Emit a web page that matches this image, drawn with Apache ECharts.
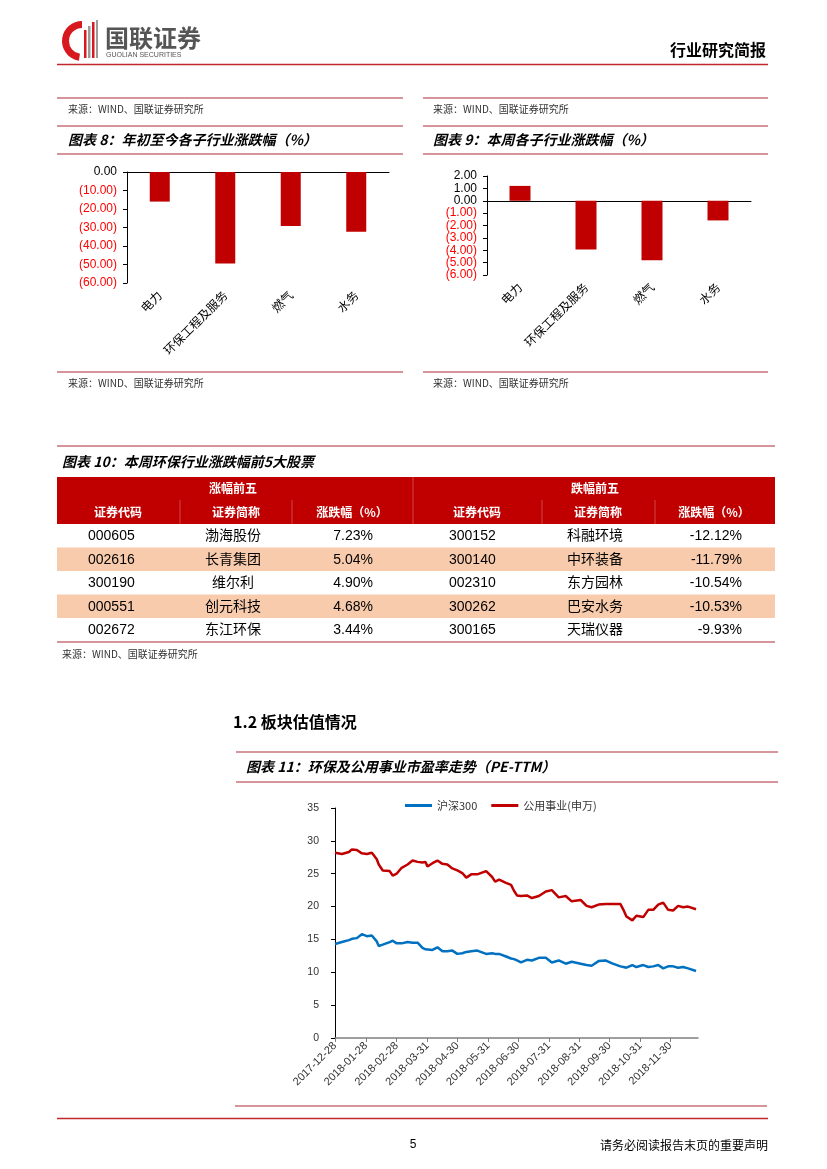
<!DOCTYPE html>
<html><head><meta charset="utf-8">
<script src="https://cdn.jsdelivr.net/npm/echarts@6/dist/echarts.min.js"></script>
<style>html,body{margin:0;padding:0;background:#fff}#c{width:827px;height:1169px}</style>
</head><body><div id="c"></div>
<script>
// ---------- DATA ----------
const subIndustries = ['电力', '环保工程及服务', '燃气', '水务'];
const ytdChange = [-16.0, -49.5, -29.2, -32.3];
const weekChange = [1.2, -3.93, -4.81, -1.59];

const upCodes = ['000605', '002616', '300190', '000551', '002672'];
const upNames = ['渤海股份', '长青集团', '维尔利', '创元科技', '东江环保'];
const upPct = [7.23, 5.04, 4.90, 4.68, 3.44];
const downCodes = ['300152', '300140', '002310', '300262', '300165'];
const downNames = ['科融环境', '中环装备', '东方园林', '巴安水务', '天瑞仪器'];
const downPct = [-12.12, -11.79, -10.54, -10.53, -9.93];

const peStart = '2017-12-28';
const peEnd = '2018-12-28';
const peTickDates = ['2017-12-28','2018-01-28','2018-02-28','2018-03-31','2018-04-30','2018-05-31',
  '2018-06-30','2018-07-31','2018-08-31','2018-09-30','2018-10-31','2018-11-30'];
const peDates = ['2017-12-28','2018-01-04','2018-01-11','2018-01-14','2018-01-19','2018-01-24','2018-01-29',
  '2018-02-03','2018-02-05','2018-02-08','2018-02-10','2018-02-14','2018-02-21','2018-02-24','2018-02-28',
  '2018-03-05','2018-03-11','2018-03-16','2018-03-21','2018-03-26','2018-03-29','2018-03-31',
  '2018-04-05','2018-04-10','2018-04-15','2018-04-20','2018-04-25','2018-04-30',
  '2018-05-05','2018-05-09','2018-05-14','2018-05-20','2018-05-29',
  '2018-06-04','2018-06-07','2018-06-11','2018-06-18','2018-06-23','2018-06-26','2018-06-29',
  '2018-07-03','2018-07-09','2018-07-14','2018-07-21','2018-07-28',
  '2018-08-03','2018-08-10','2018-08-17','2018-08-23',
  '2018-09-01','2018-09-07','2018-09-12','2018-09-19','2018-09-26',
  '2018-10-02','2018-10-11','2018-10-14','2018-10-17','2018-10-23','2018-10-27',
  '2018-11-03','2018-11-08','2018-11-13','2018-11-18','2018-11-23','2018-11-28',
  '2018-12-03','2018-12-08','2018-12-13','2018-12-18','2018-12-26'];
const hs300 = [14.3,14.6,14.9,15.1,15.2,15.8,15.5,
  15.6,15.7,14.7,14.0,14.2,14.6,14.8,14.4,
  14.4,14.6,14.5,14.5,13.7,13.5,13.4,
  13.4,13.8,13.2,13.2,13.3,12.8,
  12.9,13.1,13.2,13.3,12.8,
  12.9,12.8,12.8,12.4,12.1,12.0,11.8,
  11.5,11.9,11.8,12.2,12.2,
  11.5,11.8,11.3,11.6,
  11.3,11.1,11.0,11.7,11.8,
  11.4,10.9,10.8,10.7,11.1,10.8,
  11.1,10.8,10.9,11.1,10.6,10.9,
  10.9,10.7,10.8,10.6,10.2];
const utilities = [28.2,28.0,28.3,28.7,28.6,28.1,28.0,
  28.2,27.8,27.2,26.4,25.5,25.4,24.7,25.0,
  25.9,26.4,27.0,26.8,26.7,26.8,26.1,
  26.6,27.0,26.5,26.4,25.8,25.5,
  25.1,24.4,24.9,24.9,25.4,
  24.5,23.8,24.1,23.6,23.3,22.4,21.7,
  21.6,21.7,21.3,21.6,22.3,
  22.5,21.4,21.6,20.8,
  21.0,20.1,19.9,20.3,20.4,
  20.4,20.4,19.5,18.5,17.9,18.6,
  18.4,19.5,19.5,20.3,20.6,19.5,
  19.4,20.1,19.9,20.0,19.6];

// ---------- HELPERS ----------
const CJK = '"Noto Sans CJK SC", sans-serif';
const LAT = '"Liberation Sans", "Noto Sans CJK SC", sans-serif';
const PINK = '#C8707A';
function ts(s){const p=s.split('-').map(Number);return Date.UTC(p[0],p[1]-1,p[2]);}
const DAY = 86400000;
function dayOf(s){return Math.round((ts(s)-ts(peStart))/DAY);}
function pad(n){return n<10?'0'+n:''+n;}
function dayLabel(v){const d=new Date(ts(peStart)+Math.round(v)*DAY);return d.getUTCFullYear()+'-'+pad(d.getUTCMonth()+1)+'-'+pad(d.getUTCDate());}
function T(x,y,text,font,fill,align,valign){
  return {type:'text',x:x,y:y,silent:true,style:{text:text,font:font,fill:fill||'#000',
    align:align||'left',verticalAlign:valign||'middle',textAlign:align||'left',textVerticalAlign:valign||'middle'}};
}
function L(x1,y1,x2,y2,color,w){
  return {type:'line',silent:true,shape:{x1:x1,y1:y1,x2:x2,y2:y2},style:{stroke:color,lineWidth:w||1}};
}
function R(x,y,w,h,fill){return {type:'rect',silent:true,shape:{x:x,y:y,width:w,height:h},style:{fill:fill}};}
function numFmt(v){ if(v===0) return '0.00'; return v<0?'('+Math.abs(v).toFixed(2)+')':v.toFixed(2); }
function numColor(v){ return Number(v)<0?'#FF0000':'#000'; }

const g = [];
// header
g.push({type:'sector',silent:true,shape:{cx:82,cy:41,r:20,r0:13,startAngle:Math.PI*0.55,endAngle:Math.PI*1.5},style:{fill:'#D7191F'}});
g.push(R(84,30,2.5,28,'#D7191F'), R(88,26,2.5,32,'#9a9a9a'), R(92,22,2.5,36,'#D7191F'), R(96,20,2,38,'#9a9a9a'));
g.push(T(105,38,'国联证券','bold 24px '+CJK,'#555'));
g.push(T(106,55,'GUOLIAN SECURITIES','7px '+LAT,'#555'));
g.push(T(766,50,'行业研究简报','bold 16px '+CJK,'#000','right'));
g.push(L(57,64.5,768,64.5,'#C0282D',1.5));

// chart 8 / 9 frames
const src = '来源：WIND、国联证券研究所';
[[57,403,68,'图表 8：年初至今各子行业涨跌幅（%）'],[423,768,433,'图表 9：本周各子行业涨跌幅（%）']].forEach(function(c){
  g.push(L(c[0],98,c[1],98,PINK,1.5));
  g.push(T(c[2],109,src,'10px '+CJK,'#333'));
  g.push(L(c[0],126,c[1],126,PINK,1.5));
  g.push(T(c[2],140,c[3],'italic bold 14px '+CJK,'#000'));
  g.push(L(c[0],154,c[1],154,PINK,1.5));
  g.push(L(c[0],372,c[1],372,PINK,1.5));
  g.push(T(c[2],383,src,'10px '+CJK,'#333'));
});

// table 10
g.push(L(57,446,775,446,PINK,1.5));
g.push(T(62,462,'图表 10：本周环保行业涨跌幅前5大股票','italic bold 14px '+CJK,'#000'));
g.push(R(57,477,718,47,'#C00000'));
const rowTop = 524, rowH = 23.5;
for(let i=0;i<upCodes.length;i++){ if(i%2===1) g.push(R(57,rowTop+i*rowH,718,rowH,'#F8CBAD')); }
const divC = 'rgba(255,255,255,0.28)';
g.push(L(413,477,413,524,divC,1));
[180,292,542,655].forEach(function(x){ g.push(L(x,500,x,524,divC,1)); });
g.push(T(233,488,'涨幅前五','bold 12px '+CJK,'#fff','center'));
g.push(T(595,488,'跌幅前五','bold 12px '+CJK,'#fff','center'));
[[118,'证券代码'],[236,'证券简称'],[352,'涨跌幅（%）'],[477,'证券代码'],[598,'证券简称'],[714,'涨跌幅（%）']].forEach(function(h){
  g.push(T(h[0],512,h[1],'bold 12px '+CJK,'#fff','center'));
});
for(let i=0;i<upCodes.length;i++){
  const y = rowTop + i*rowH + rowH/2 + 0.5;
  g.push(T(88,y,upCodes[i],'14px '+LAT,'#000'));
  g.push(T(233,y-1.5,upNames[i],'14px '+CJK,'#000','center'));
  g.push(T(373,y,upPct[i].toFixed(2)+'%','14px '+LAT,'#000','right'));
  g.push(T(449,y,downCodes[i],'14px '+LAT,'#000'));
  g.push(T(595,y-1.5,downNames[i],'14px '+CJK,'#000','center'));
  g.push(T(742,y,downPct[i].toFixed(2)+'%','14px '+LAT,'#000','right'));
}
g.push(L(57,642,775,642,PINK,1.5));
g.push(T(62,654,src,'10px '+CJK,'#333'));

// section 1.2 + chart 11 frame
g.push(T(233,722,'1.2 板块估值情况','bold 16px '+CJK,'#000'));
g.push(L(236,752,778,752,PINK,1.5));
g.push(T(246,767,'图表 11：环保及公用事业市盈率走势（PE-TTM）','italic bold 14px '+CJK,'#000'));
g.push(L(236,782,778,782,PINK,1.5));
g.push(L(235,1106,767,1106,PINK,1.5));

// footer
g.push(L(57,1118.5,768,1118.5,'#C0282D',1.5));
g.push(T(413,1145,'5','12px '+LAT,'#000','center'));
g.push(T(768,1145,'请务必阅读报告末页的重要声明','12px '+CJK,'#000','right'));

// ---------- CHART ----------
const chart = echarts.init(document.getElementById('c'), null, {renderer:'canvas'});
const tickDays = peTickDates.map(dayOf);
const axisBlack = {lineStyle:{color:'#000',width:1}};
const barLabelY = {fontSize:12,fontFamily:LAT,formatter:numFmt,color:numColor,margin:10};
chart.setOption({
  animation:false,
  backgroundColor:'#fff',
  graphic:{elements:g},
  legend:{data:['沪深300','公用事业(申万)'],left:400,top:795,icon:'rect',itemWidth:27,itemHeight:3,itemGap:14,
    textStyle:{fontSize:11,fontFamily:CJK,color:'#333'}},
  grid:[
    {left:127,top:172,width:262,height:111},
    {left:487,top:176,width:264,height:99},
    {left:335,top:808,width:363,height:230}
  ],
  xAxis:[
    {gridIndex:0,type:'category',data:subIndustries,position:'top',axisLine:axisBlack,
      axisTick:{inside:true,length:4,lineStyle:{color:'#000'}},axisLabel:{show:false}},
    {gridIndex:0,type:'category',data:subIndustries,position:'bottom',axisLine:{show:false,onZero:false},axisTick:{show:false},
      axisLabel:{rotate:45,fontSize:12,fontFamily:CJK,color:'#000',margin:10,interval:0}},
    {gridIndex:1,type:'category',data:subIndustries,position:'bottom',axisLine:{onZero:true,lineStyle:{color:'#000'}},
      axisTick:{length:4,lineStyle:{color:'#000'}},axisLabel:{show:false}},
    {gridIndex:1,type:'category',data:subIndustries,position:'bottom',axisLine:{show:false,onZero:false},axisTick:{show:false},
      axisLabel:{rotate:45,fontSize:12,fontFamily:CJK,color:'#000',margin:10,interval:0}},
    {gridIndex:2,type:'value',min:0,max:dayOf(peEnd),
      axisLine:{onZero:false,lineStyle:{color:'#7f7f7f',width:1.5}},
      axisTick:{show:true,customValues:tickDays,length:4,lineStyle:{color:'#7f7f7f'}},
      axisLabel:{customValues:tickDays,rotate:45,formatter:dayLabel,fontSize:11,fontFamily:LAT,color:'#333',margin:6},
      splitLine:{show:false}}
  ],
  yAxis:[
    {gridIndex:0,type:'value',min:-60,max:0,interval:10,axisLine:{show:true,lineStyle:{color:'#000'}},
      axisTick:{show:true,length:4,lineStyle:{color:'#000'}},splitLine:{show:false},axisLabel:barLabelY},
    {gridIndex:1,type:'value',min:-6,max:2,interval:1,axisLine:{show:true,onZero:false,lineStyle:{color:'#000'}},
      axisTick:{show:true,length:4,lineStyle:{color:'#000'}},splitLine:{show:false},axisLabel:barLabelY},
    {gridIndex:2,type:'value',min:0,max:35,interval:5,axisLine:{show:true,onZero:false,lineStyle:{color:'#000'}},
      axisTick:{show:true,length:4,lineStyle:{color:'#000'}},splitLine:{show:false},
      axisLabel:{fontSize:10.5,fontFamily:LAT,color:'#333',margin:16}}
  ],
  series:[
    {type:'bar',xAxisIndex:0,yAxisIndex:0,data:ytdChange,barWidth:20,itemStyle:{color:'#C00000'}},
    {type:'bar',xAxisIndex:2,yAxisIndex:1,data:weekChange,barWidth:21,itemStyle:{color:'#C00000'}},
    {name:'沪深300',type:'line',xAxisIndex:4,yAxisIndex:2,showSymbol:false,symbol:'none',
      data:peDates.map(function(d,i){return [dayOf(d),hs300[i]];}),lineStyle:{color:'#0070C0',width:2.5},itemStyle:{color:'#0070C0'}},
    {name:'公用事业(申万)',type:'line',xAxisIndex:4,yAxisIndex:2,showSymbol:false,symbol:'none',
      data:peDates.map(function(d,i){return [dayOf(d),utilities[i]];}),lineStyle:{color:'#C00000',width:2.5},itemStyle:{color:'#C00000'}}
  ]
});
</script></body></html>
